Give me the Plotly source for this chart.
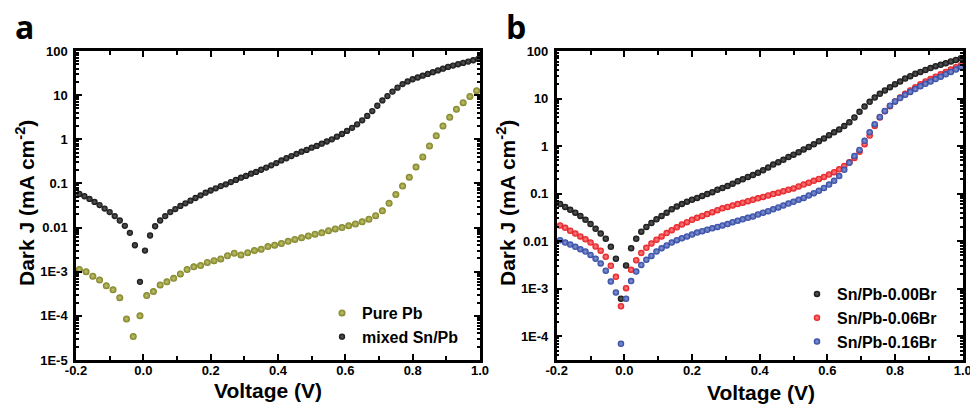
import numpy as np
import plotly.graph_objects as go

# ---------------- data ----------------
# voltage sweep points (V)
V_dense = [-0.19, -0.175, -0.16, -0.145, -0.13, -0.115, -0.1, -0.085, -0.07, -0.055,
           -0.04, -0.025, -0.01, 0.005, 0.02, 0.035, 0.05, 0.065, 0.08, 0.095,
           0.11, 0.125, 0.14, 0.155, 0.17, 0.185, 0.2, 0.215, 0.23, 0.245,
           0.26, 0.275, 0.29, 0.305, 0.32, 0.335, 0.35, 0.365, 0.38, 0.395,
           0.41, 0.425, 0.44, 0.455, 0.47, 0.485, 0.5, 0.515, 0.53, 0.545,
           0.56, 0.575, 0.59, 0.605, 0.62, 0.635, 0.65, 0.665, 0.68, 0.695,
           0.71, 0.725, 0.74, 0.755, 0.77, 0.785, 0.8, 0.815, 0.83, 0.845,
           0.86, 0.875, 0.89, 0.905, 0.92, 0.935, 0.95, 0.965, 0.98, 0.995]

V_pb = [-0.19, -0.17, -0.15, -0.13, -0.11, -0.09, -0.07, -0.05, -0.03, -0.01,
        0.01, 0.03, 0.05, 0.07, 0.09, 0.11, 0.13, 0.15, 0.17, 0.19,
        0.21, 0.23, 0.25, 0.27, 0.29, 0.31, 0.33, 0.35, 0.37, 0.39,
        0.41, 0.43, 0.45, 0.47, 0.49, 0.51, 0.53, 0.55, 0.57, 0.59,
        0.61, 0.63, 0.65, 0.67, 0.69, 0.71, 0.73, 0.75, 0.77, 0.79,
        0.81, 0.83, 0.85, 0.87, 0.89, 0.91, 0.93, 0.95, 0.97, 0.99]

# log10 of dark current density (mA cm^-2)
logJ_pure_pb = [-2.95, -3.00, -3.10, -3.19, -3.32, -3.41, -3.59, -4.07, -4.47, -4.00,
                -3.54, -3.45, -3.30, -3.23, -3.15, -3.05, -2.95, -2.89, -2.86, -2.79,
                -2.75, -2.71, -2.64, -2.58, -2.62, -2.57, -2.52, -2.49, -2.43, -2.40,
                -2.36, -2.31, -2.27, -2.23, -2.19, -2.15, -2.12, -2.07, -2.03, -2.00,
                -1.96, -1.92, -1.87, -1.81, -1.73, -1.62, -1.45, -1.25, -1.06, -0.86,
                -0.63, -0.40, -0.15, 0.08, 0.30, 0.50, 0.68, 0.83, 0.97, 1.10]

logJ_mixed = [-1.24, -1.29, -1.35, -1.42, -1.49, -1.57, -1.65, -1.74, -1.84, -1.96,
              -2.12, -2.40, -3.23, -2.52, -2.18, -1.97, -1.84, -1.74, -1.65, -1.58,
              -1.51, -1.45, -1.39, -1.33, -1.27, -1.21, -1.16, -1.11, -1.06, -1.02,
              -0.97, -0.92, -0.87, -0.83, -0.78, -0.74, -0.69, -0.64, -0.59, -0.54,
              -0.48, -0.43, -0.38, -0.33, -0.28, -0.24, -0.19, -0.15, -0.10, -0.05,
              0.00, 0.06, 0.12, 0.19, 0.26, 0.34, 0.43, 0.53, 0.64, 0.76,
              0.88, 0.98, 1.08, 1.17, 1.25, 1.31, 1.36, 1.40, 1.44, 1.48,
              1.52, 1.56, 1.60, 1.64, 1.67, 1.70, 1.73, 1.76, 1.79, 1.82]

logJ_br000 = [-1.22, -1.28, -1.34, -1.40, -1.47, -1.55, -1.64, -1.74, -1.84, -1.95,
              -2.12, -2.37, -3.21, -2.51, -2.15, -1.95, -1.80, -1.70, -1.62, -1.54,
              -1.47, -1.40, -1.33, -1.27, -1.22, -1.17, -1.13, -1.09, -1.05, -1.01,
              -0.97, -0.92, -0.88, -0.84, -0.79, -0.74, -0.70, -0.65, -0.61, -0.56,
              -0.51, -0.45, -0.39, -0.34, -0.29, -0.23, -0.18, -0.13, -0.07, -0.02,
              0.04, 0.10, 0.16, 0.23, 0.29, 0.35, 0.42, 0.50, 0.60, 0.72,
              0.83, 0.93, 1.02, 1.10, 1.17, 1.24, 1.30, 1.36, 1.42, 1.47,
              1.52, 1.56, 1.60, 1.64, 1.68, 1.71, 1.74, 1.78, 1.81, 1.85]

logJ_br006 = [-1.67, -1.72, -1.78, -1.84, -1.90, -1.96, -2.03, -2.11, -2.20, -2.33,
              -2.52, -2.75, -3.37, -2.99, -2.60, -2.40, -2.25, -2.14, -2.05, -1.97,
              -1.90, -1.83, -1.77, -1.71, -1.65, -1.60, -1.55, -1.51, -1.47, -1.43,
              -1.39, -1.35, -1.31, -1.28, -1.25, -1.22, -1.19, -1.16, -1.13, -1.10,
              -1.07, -1.04, -1.01, -0.98, -0.95, -0.92, -0.89, -0.85, -0.81, -0.77,
              -0.73, -0.69, -0.65, -0.60, -0.55, -0.49, -0.42, -0.34, -0.25, -0.12,
              0.04, 0.22, 0.42, 0.60, 0.73, 0.84, 0.94, 1.02, 1.10, 1.17,
              1.24, 1.30, 1.36, 1.41, 1.46, 1.51, 1.56, 1.61, 1.66, 1.70]

logJ_br016 = [-1.98, -2.03, -2.07, -2.12, -2.17, -2.22, -2.29, -2.37, -2.47, -2.62,
              -2.85, -3.08, -4.16, -3.21, -2.84, -2.64, -2.50, -2.39, -2.31, -2.22,
              -2.15, -2.09, -2.03, -1.98, -1.94, -1.90, -1.86, -1.82, -1.79, -1.76,
              -1.73, -1.70, -1.67, -1.64, -1.60, -1.57, -1.54, -1.51, -1.48, -1.44,
              -1.40, -1.37, -1.33, -1.29, -1.25, -1.21, -1.17, -1.13, -1.09, -1.04,
              -0.99, -0.94, -0.88, -0.81, -0.73, -0.63, -0.50, -0.35, -0.21, -0.08,
              0.11, 0.29, 0.46, 0.61, 0.74, 0.85, 0.94, 1.01, 1.08, 1.14,
              1.20, 1.26, 1.31, 1.36, 1.41, 1.46, 1.51, 1.56, 1.61, 1.66]

x_tickvals = [-0.2, 0.0, 0.2, 0.4, 0.6, 0.8, 1.0]
x_ticktext = ["-0.2", "0.0", "0.2", "0.4", "0.6", "0.8", "1.0"]
x_minor = [-0.1, 0.1, 0.3, 0.5, 0.7, 0.9]
y_tickvals = [1e-5, 1e-4, 1e-3, 1e-2, 1e-1, 1, 10, 100]
y_ticktext = ["1E-5", "1E-4", "1E-3", "0.01", "0.1", "1", "10", "100"]

# ---------------- figure ----------------
W, H = 970, 405
FONT = "Liberation Sans, Arial, sans-serif"

def px_x(p):
    return p / W

def px_y(p):
    return 1 - p / H

fig = go.Figure()

def add(x, logy, name, color, hi, size, xa, ya, leg):
    fig.add_trace(go.Scatter(
        x=x, y=10 ** np.array(logy), name=name, mode="markers",
        xaxis=xa, yaxis=ya, legend=leg, cliponaxis=False,
        marker=dict(size=size, color=color, line=dict(width=0),
                    gradient=dict(type="radial", color=hi)),
    ))

add(V_pb, logJ_pure_pb, "Pure Pb", "#7d8024", "#c4c670", 7, "x", "y", "legend")
add(V_dense, logJ_mixed, "mixed Sn/Pb", "#111111", "#5e5e5e", 6.3, "x", "y", "legend")
add(V_dense, logJ_br000, "Sn/Pb-0.00Br", "#111111", "#5e5e5e", 6.5, "x2", "y2", "legend2")
add(V_dense, logJ_br006, "Sn/Pb-0.06Br", "#e8161c", "#f58a8a", 6.5, "x2", "y2", "legend2")
add(V_dense, logJ_br016, "Sn/Pb-0.16Br", "#2c45a0", "#8c9ad6", 6.5, "x2", "y2", "legend2")

minor_y = [m * 10.0 ** e for e in range(-5, 2) for m in range(2, 10)]

def xaxis(domain, anchor):
    return dict(domain=domain, anchor=anchor, range=[-0.2, 1.0], automargin=False,
                tickmode="array", tickvals=x_tickvals, ticktext=x_ticktext,
                ticks="inside", ticklen=6, tickwidth=2, tickcolor="black",
                minor=dict(tickmode="array", tickvals=x_minor, ticks="inside",
                           ticklen=4, tickwidth=2, tickcolor="black"),
                showline=True, linewidth=2.5, linecolor="black", mirror="allticks",
                showgrid=False, zeroline=False, ticklabelstandoff=-3,
                ticklabeloverflow="allow",
                tickfont=dict(family=FONT, size=13, color="black", weight="bold"))

def yaxis(domain, anchor, rng):
    return dict(domain=domain, anchor=anchor, type="log", range=rng, automargin=False,
                tickmode="array", tickvals=y_tickvals, ticktext=y_ticktext,
                ticks="inside", ticklen=6, tickwidth=2, tickcolor="black",
                minor=dict(tickmode="array", tickvals=minor_y, ticks="inside",
                           ticklen=3, tickwidth=1.5, tickcolor="black"),
                showline=True, linewidth=2.5, linecolor="black", mirror="allticks",
                showgrid=False, zeroline=False, ticklabelstandoff=3,
                ticklabeloverflow="allow",
                tickfont=dict(family=FONT, size=13, color="black", weight="bold"))

yd = [px_y(360), px_y(51)]
fig.update_layout(
    width=W, height=H, margin=dict(l=0, r=0, t=0, b=0, pad=0, autoexpand=False),
    paper_bgcolor="white", plot_bgcolor="white",
    xaxis=xaxis([px_x(76), px_x(480)], "y"),
    yaxis=yaxis(yd, "x", [-5, 2]),
    xaxis2=xaxis([px_x(556.7), px_x(962.7)], "y2"),
    yaxis2=yaxis(yd, "x2", [-4.5, 2]),
    legend=dict(x=px_x(322), y=px_y(296), xanchor="left", yanchor="top",
                bgcolor="rgba(0,0,0,0)", itemwidth=30, tracegroupgap=0,
                font=dict(family=FONT, size=16, color="black", weight="bold")),
    legend2=dict(x=px_x(797), y=px_y(277), xanchor="left", yanchor="top",
                 bgcolor="rgba(0,0,0,0)", itemwidth=30, tracegroupgap=0,
                 font=dict(family=FONT, size=16, color="black", weight="bold")),
    showlegend=True,
)

ann_font = dict(family=FONT, size=21, color="black", weight="bold")
annotations = [
    dict(text="Voltage (V)", x=px_x(268), y=px_y(390), xref="paper", yref="paper",
         xanchor="center", yanchor="middle", showarrow=False, font=ann_font),
    dict(text="Voltage (V)", x=px_x(761), y=px_y(392), xref="paper", yref="paper",
         xanchor="center", yanchor="middle", showarrow=False, font=ann_font),
    dict(text="Dark J (mA cm<sup>-2</sup>)", x=px_x(25), y=px_y(203), xref="paper",
         yref="paper", xanchor="center", yanchor="middle", textangle=-90,
         showarrow=False, font=ann_font),
    dict(text="Dark J (mA cm<sup>-2</sup>)", x=px_x(506), y=px_y(203), xref="paper",
         yref="paper", xanchor="center", yanchor="middle", textangle=-90,
         showarrow=False, font=ann_font),
    dict(text="a", x=px_x(13), y=px_y(27), xref="paper", yref="paper",
         xanchor="left", yanchor="middle", showarrow=False,
         font=dict(family="Open Sans, sans-serif", size=32, color="black", weight="bold")),
    dict(text="b", x=px_x(504), y=px_y(27), xref="paper", yref="paper",
         xanchor="left", yanchor="middle", showarrow=False,
         font=dict(family="Open Sans, sans-serif", size=32, color="black", weight="bold")),
]
fig.update_layout(annotations=annotations)

fig.write_html("out.html",
               config={"displayModeBar": False},
               post_script="document.body.style.margin='0px';"
                           "document.body.style.overflow='hidden';")
